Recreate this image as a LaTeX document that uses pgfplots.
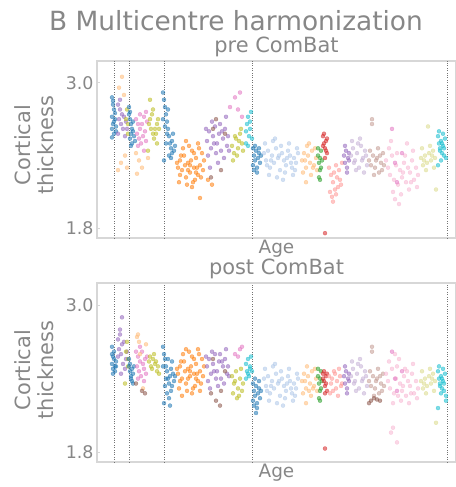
\documentclass[border=0pt]{standalone}
\usepackage{fontspec}
\setmainfont{DejaVu Sans}
\usepackage{pgfplots}
\pgfplotsset{compat=1.18}
\definecolor{txt}{RGB}{135,135,135}
\definecolor{frame}{RGB}{215,215,215}
\definecolor{tb}{HTML}{1F77B4}
\definecolor{tbl}{HTML}{AEC7E8}
\definecolor{to}{HTML}{FF7F0E}
\definecolor{tol}{HTML}{FFBB78}
\definecolor{tg}{HTML}{2CA02C}
\definecolor{tr}{HTML}{D62728}
\definecolor{trl}{HTML}{FF9896}
\definecolor{tp}{HTML}{9467BD}
\definecolor{tpl}{HTML}{C5B0D5}
\definecolor{tbr}{HTML}{8C564B}
\definecolor{tbrl}{HTML}{C49C94}
\definecolor{tpk}{HTML}{E377C2}
\definecolor{tpkl}{HTML}{F7B6D2}
\definecolor{tol2}{HTML}{BCBD22}
\definecolor{toll}{HTML}{DBDB8D}
\definecolor{tc}{HTML}{17BECF}
\definecolor{tcl}{HTML}{9EDAE5}
\pgfplotsset{
  sc/.style={only marks, mark=*, mark size=2pt, color=#1, fill=#1, opacity=0.55},
  panel/.style={
    scale only axis, width=359bp, anchor=south west,
    xmin=97, xmax=456, ymin=1.72, ymax=3.18,
    axis line style={frame, line width=1.2pt},
    xtick=\empty,
    extra x ticks={114,129,164,252,447}, extra x tick labels={},
    extra x tick style={grid=major, major tick length=0pt,
      major grid style={dotted, black!55, line width=0.9pt}},
    ytick={1.8,3.0},
    yticklabel style={text=txt, font=\fontsize{17.5}{20}\selectfont,
      /pgf/number format/.cd, fixed, fixed zerofill, precision=1, assume math mode=true},
    major tick style={frame, line width=1pt}, major tick length=3pt,
    ytick pos=left,
    title style={text=txt, font=\fontsize{21}{24}\selectfont, yshift=-5pt},
    xlabel style={text=txt, font=\fontsize{18.5}{22}\selectfont, at={(axis description cs:0.5,0)}, anchor=north, yshift=1pt},
    xlabel=Age,
  }
}
\begin{document}
\begin{tikzpicture}
\path[use as bounding box] (0,0) rectangle (456bp,487bp);
\node[text=txt, font=\fontsize{26.5}{30}\selectfont] at (236bp,466bp) {B Multicentre harmonization};
\node[text=txt, rotate=90, align=center, font=\fontsize{21}{23}\selectfont] at (34bp,342bp) {Cortical\\thickness};
\node[text=txt, rotate=90, align=center, font=\fontsize{21}{23}\selectfont] at (34bp,117bp) {Cortical\\thickness};
% ---------------- pre ComBat ----------------
\begin{axis}[panel, at={(97bp,249bp)}, height=177bp, title={pre ComBat}]
\addplot[sc=tb] coordinates {(112,2.88)(113,2.82)(114,2.78)(112,2.72)(115,2.70)(113,2.66)(116,2.64)(112,2.62)(114,2.58)(115,2.75)(113,2.85)(116,2.60)(112,2.55)(114,2.68)};
\addplot[sc=tp] coordinates {(118,2.82)(120,2.78)(122,2.74)(119,2.70)(121,2.66)(124,2.72)(126,2.68)(123,2.62)(118,2.58)(125,2.56)(120,2.86)(127,2.62)};
\addplot[sc=tol] coordinates {(118,2.28)(121,2.34)(125,2.40)(119,2.96)(122,3.05)(127,2.30)(124,2.90)};
\addplot[sc=tol2] coordinates {(126,2.70)(127,2.78)(128,2.66)(128,2.58)};
\addplot[sc=tb] coordinates {(129,2.74)(130,2.70)(131,2.66)(132,2.62)(131,2.58)(130,2.54)(132,2.50)(133,2.60)(134,2.56)(129,2.80)(130,2.76)(133,2.68)(135,2.52)(131,2.48)};
\addplot[sc=tpk] coordinates {(136,2.70)(138,2.66)(140,2.62)(137,2.58)(139,2.54)(141,2.50)(143,2.56)(145,2.60)(142,2.66)(144,2.72)(146,2.52)(138,2.48)(140,2.74)(147,2.68)(144,2.44)(146,2.76)};
\addplot[sc=tol] coordinates {(136,2.42)(139,2.36)(142,2.30)(137,2.25)(148,2.38)};
\addplot[sc=tol2] coordinates {(149,2.66)(151,2.62)(153,2.58)(155,2.62)(157,2.66)(150,2.70)(152,2.74)(154,2.54)(156,2.58)(158,2.70)(159,2.62)(150,2.86)(153,2.78)(157,2.50)(148,2.44)};
\addplot[sc=tb] coordinates {(163,2.92)(164,2.86)(165,2.80)(166,2.74)(167,2.68)(168,2.62)(169,2.56)(170,2.50)(171,2.46)(172,2.52)(173,2.58)(174,2.44)(165,2.64)(167,2.58)(169,2.40)(171,2.38)(163,2.70)(166,2.50)(172,2.42)(175,2.48)(164,2.36)(168,2.78)};
\addplot[sc=to] coordinates {(178,2.30)(180,2.36)(182,2.28)(184,2.40)(186,2.22)(188,2.34)(190,2.26)(192,2.44)(194,2.30)(196,2.38)(198,2.24)(200,2.32)(202,2.42)(179,2.18)(183,2.46)(187,2.16)(191,2.36)(195,2.20)(199,2.46)(203,2.28)(181,2.40)(185,2.32)(189,2.48)(193,2.18)(197,2.30)(201,2.22)(204,2.36)(186,2.52)(192,2.14)(198,2.50)(180,2.24)(190,2.32)(196,2.26)(177,2.34)(194,2.42)(188,2.28)(208,2.20)(212,2.16)(200,2.05)};
\addplot[sc=tp] coordinates {(207,2.52)(209,2.60)(211,2.46)(213,2.56)(215,2.64)(217,2.50)(219,2.58)(221,2.44)(223,2.54)(225,2.62)(227,2.48)(208,2.40)(212,2.68)(216,2.42)(220,2.66)(224,2.38)(228,2.56)(210,2.30)(218,2.34)(226,2.72)(214,2.50)(222,2.60)(206,2.62)(229,2.44)};
\addplot[sc=tbr] coordinates {(211,2.22)(216,2.70)(221,2.28)(225,2.58)(213,2.62)};
\addplot[sc=tol2] coordinates {(232,2.48)(234,2.42)(236,2.54)(238,2.46)(240,2.58)(242,2.50)(233,2.36)(237,2.40)(241,2.62)(235,2.56)(239,2.52)(243,2.44)};
\addplot[sc=tpk] coordinates {(235,2.88)(240,2.92)(238,2.78)(242,2.72)(230,2.80)};
\addplot[sc=tc] coordinates {(246,2.60)(247,2.66)(248,2.72)(249,2.56)(250,2.68)(251,2.76)(246,2.50)(248,2.48)(250,2.62)(252,2.54)};
\addplot[sc=tb] coordinates {(253,2.46)(254,2.40)(255,2.36)(256,2.44)(257,2.30)(258,2.38)(259,2.42)(260,2.34)(253,2.32)(255,2.48)(257,2.26)(261,2.40)(254,2.28)(259,2.46)};
\addplot[sc=tbl] coordinates {(264,2.42)(266,2.36)(268,2.44)(270,2.30)(272,2.40)(274,2.34)(276,2.46)(278,2.38)(280,2.28)(282,2.42)(284,2.36)(286,2.32)(288,2.44)(290,2.40)(292,2.30)(294,2.38)(296,2.34)(298,2.42)(265,2.50)(269,2.24)(273,2.52)(277,2.22)(281,2.48)(285,2.26)(289,2.50)(293,2.24)(297,2.46)(271,2.36)(279,2.40)(287,2.38)(295,2.28)(283,2.20)(275,2.54)(291,2.34)(267,2.32)};
\addplot[sc=tol] coordinates {(302,2.36)(304,2.42)(306,2.30)(308,2.40)(310,2.34)(312,2.44)(314,2.32)(316,2.38)(303,2.26)(307,2.48)(311,2.24)(315,2.46)(305,2.36)(313,2.30)(309,2.50)(317,2.28)(306,2.18)};
\addplot[sc=tg] coordinates {(318,2.40)(319,2.34)(320,2.28)(321,2.44)(319,2.22)(320,2.38)(321,2.30)(318,2.46)(322,2.36)(320,2.20)};
\addplot[sc=tr] coordinates {(323,2.56)(324,2.50)(325,2.46)(326,2.52)(327,2.42)(324,2.58)(325,2.38)(326,2.44)(323,2.48)(327,2.54)(325,1.76)};
\addplot[sc=trl] coordinates {(329,2.30)(331,2.24)(333,2.18)(335,2.12)(337,2.22)(339,2.28)(341,2.16)(330,2.10)(332,2.06)(334,2.26)(336,2.32)(338,2.14)(340,2.20)(342,2.34)(333,2.02)(336,2.08)};
\addplot[sc=tp] coordinates {(344,2.40)(345,2.34)(346,2.44)(347,2.30)(348,2.38)(349,2.42)(345,2.48)(347,2.26)(349,2.36)};
\addplot[sc=tpl] coordinates {(351,2.40)(353,2.46)(355,2.36)(357,2.42)(359,2.30)(361,2.48)(363,2.38)(365,2.44)(367,2.32)(352,2.52)(356,2.28)(360,2.54)(364,2.26)(354,2.34)(358,2.50)(362,2.36)(366,2.40)};
\addplot[sc=tbrl] coordinates {(369,2.36)(371,2.32)(373,2.40)(375,2.30)(377,2.38)(379,2.26)(381,2.34)(383,2.42)(370,2.44)(374,2.24)(378,2.46)(382,2.28)(372,2.70)(372,2.66)(376,2.36)(380,2.40)(384,2.32)};
\addplot[sc=tpkl] coordinates {(386,2.36)(388,2.30)(390,2.24)(392,2.40)(394,2.20)(396,2.32)(398,2.16)(400,2.28)(402,2.22)(404,2.34)(406,2.18)(408,2.30)(410,2.26)(412,2.36)(414,2.20)(416,2.30)(418,2.24)(389,2.46)(393,2.10)(397,2.42)(401,2.08)(405,2.40)(409,2.12)(413,2.44)(417,2.14)(395,2.04)(399,2.00)(391,2.52)(403,2.26)(411,2.18)(407,2.50)};
\addplot[sc=tpk] coordinates {(395,2.34)(402,2.42)(392,2.62)(397,2.18)};
\addplot[sc=toll] coordinates {(421,2.38)(423,2.32)(425,2.40)(427,2.34)(429,2.42)(431,2.36)(433,2.44)(435,2.38)(422,2.46)(426,2.28)(430,2.48)(434,2.30)(424,2.36)(432,2.40)(428,2.64)(436,2.12)};
\addplot[sc=tc] coordinates {(438,2.56)(439,2.50)(440,2.46)(441,2.52)(442,2.42)(443,2.48)(444,2.40)(445,2.54)(439,2.60)(441,2.36)(443,2.58)(440,2.44)(442,2.50)(444,2.46)(446,2.38)(438,2.32)};
\end{axis}
% ---------------- post ComBat ----------------
\begin{axis}[panel, at={(97bp,25bp)}, height=179bp, title={post ComBat}]
\addplot[sc=tb] coordinates {(112,2.52)(113,2.48)(114,2.56)(112,2.60)(115,2.50)(113,2.44)(116,2.54)(112,2.66)(114,2.62)(115,2.46)(113,2.58)(116,2.50)};
\addplot[sc=tp] coordinates {(118,2.72)(120,2.76)(122,2.68)(119,2.64)(121,2.60)(124,2.70)(126,2.56)(123,2.52)(118,2.58)(125,2.48)(120,2.80)(127,2.62)(122,2.90)(121,2.44)};
\addplot[sc=tol2] coordinates {(126,2.62)(127,2.70)(128,2.56)(128,2.50)(125,2.36)};
\addplot[sc=tb] coordinates {(129,2.50)(130,2.46)(131,2.42)(132,2.48)(131,2.40)(130,2.52)(132,2.38)(133,2.44)(134,2.50)(129,2.56)(133,2.36)};
\addplot[sc=tpk] coordinates {(136,2.62)(138,2.58)(140,2.54)(137,2.50)(139,2.46)(141,2.42)(143,2.52)(145,2.56)(142,2.62)(144,2.48)(146,2.44)(138,2.40)(140,2.66)(147,2.58)(144,2.38)};
\addplot[sc=tol] coordinates {(137,2.74)(139,2.70)(138,2.76)(140,2.60)(143,2.32)(146,2.68)};
\addplot[sc=tbr] coordinates {(142,2.30)(145,2.28)(136,2.36)};
\addplot[sc=tol2] coordinates {(149,2.54)(151,2.50)(153,2.56)(155,2.52)(157,2.46)(150,2.58)(152,2.48)(154,2.60)(156,2.54)(158,2.50)(159,2.44)};
\addplot[sc=tb] coordinates {(163,2.66)(164,2.60)(165,2.56)(166,2.50)(167,2.46)(168,2.40)(169,2.36)(170,2.42)(171,2.48)(172,2.54)(173,2.44)(174,2.38)(165,2.34)(167,2.28)(169,2.24)(171,2.30)(163,2.50)(166,2.40)(172,2.34)(175,2.42)(164,2.20)(168,2.56)(170,2.18)};
\addplot[sc=to] coordinates {(178,2.44)(180,2.50)(182,2.40)(184,2.54)(186,2.36)(188,2.48)(190,2.42)(192,2.58)(194,2.44)(196,2.52)(198,2.38)(200,2.46)(202,2.56)(179,2.32)(183,2.60)(187,2.30)(191,2.50)(195,2.34)(199,2.60)(203,2.42)(181,2.54)(185,2.46)(189,2.62)(193,2.32)(197,2.44)(201,2.36)(204,2.50)(186,2.64)(192,2.28)(198,2.64)(180,2.38)(190,2.46)(196,2.40)(177,2.48)(194,2.56)(188,2.40)(182,2.26)(200,2.30)};
\addplot[sc=tp] coordinates {(207,2.50)(209,2.56)(211,2.44)(213,2.52)(215,2.60)(217,2.46)(219,2.54)(221,2.40)(223,2.50)(225,2.56)(227,2.44)(208,2.38)(212,2.62)(216,2.40)(220,2.60)(224,2.36)(228,2.50)(210,2.32)(218,2.34)(226,2.64)(214,2.46)(222,2.54)(206,2.58)(229,2.42)};
\addplot[sc=tbr] coordinates {(211,2.28)(216,2.22)(221,2.30)(225,2.46)(213,2.56)(220,2.18)};
\addplot[sc=tol2] coordinates {(232,2.42)(234,2.36)(236,2.46)(238,2.32)(240,2.40)(242,2.30)(233,2.28)(237,2.24)(241,2.48)(235,2.38)(239,2.26)(243,2.36)};
\addplot[sc=tpk] coordinates {(235,2.60)(240,2.64)(238,2.58)(242,2.66)};
\addplot[sc=tc] coordinates {(246,2.52)(247,2.46)(248,2.56)(249,2.42)(250,2.50)(251,2.58)(246,2.40)(248,2.44)(250,2.48)(252,2.46)};
\addplot[sc=tb] coordinates {(253,2.36)(254,2.30)(255,2.26)(256,2.34)(257,2.20)(258,2.28)(259,2.32)(260,2.24)(253,2.22)(255,2.40)(257,2.16)(261,2.30)(254,2.18)(259,2.38)(256,2.12)};
\addplot[sc=tbl] coordinates {(264,2.40)(266,2.34)(268,2.42)(270,2.28)(272,2.38)(274,2.32)(276,2.44)(278,2.36)(280,2.26)(282,2.40)(284,2.34)(286,2.30)(288,2.42)(290,2.38)(292,2.28)(294,2.36)(296,2.32)(298,2.40)(265,2.48)(269,2.22)(273,2.50)(277,2.20)(281,2.46)(285,2.24)(289,2.48)(293,2.22)(297,2.44)(271,2.34)(279,2.38)(287,2.36)(295,2.26)(283,2.18)(275,2.52)(291,2.32)(267,2.30)};
\addplot[sc=tol] coordinates {(302,2.38)(304,2.44)(306,2.32)(308,2.42)(310,2.36)(312,2.46)(314,2.34)(316,2.40)(303,2.28)(307,2.50)(311,2.26)(315,2.48)(305,2.38)(313,2.32)(309,2.30)(317,2.30)(306,2.20)};
\addplot[sc=tg] coordinates {(318,2.42)(319,2.36)(320,2.30)(321,2.46)(319,2.24)(320,2.40)(321,2.32)(318,2.48)(322,2.38)(320,2.22)};
\addplot[sc=tr] coordinates {(323,2.44)(324,2.38)(325,2.34)(326,2.42)(327,2.30)(324,2.46)(325,2.28)(326,2.36)(323,2.40)(327,2.44)(325,1.83)};
\addplot[sc=trl] coordinates {(329,2.42)(331,2.36)(333,2.30)(335,2.44)(337,2.38)(339,2.48)(341,2.34)(330,2.28)(332,2.40)(334,2.46)(336,2.32)(338,2.26)(340,2.42)(342,2.36)};
\addplot[sc=tp] coordinates {(344,2.42)(345,2.36)(346,2.46)(347,2.32)(348,2.40)(349,2.44)(345,2.50)(347,2.28)(349,2.38)};
\addplot[sc=tpl] coordinates {(351,2.42)(353,2.48)(355,2.38)(357,2.44)(359,2.32)(361,2.50)(363,2.40)(365,2.46)(367,2.34)(352,2.54)(356,2.30)(360,2.56)(364,2.28)(354,2.36)(358,2.52)(362,2.38)(366,2.42)};
\addplot[sc=tbrl] coordinates {(369,2.38)(371,2.34)(373,2.42)(375,2.32)(377,2.40)(379,2.28)(381,2.36)(383,2.44)(370,2.46)(374,2.26)(378,2.48)(382,2.30)(372,2.66)(372,2.62)(376,2.38)(380,2.42)(384,2.34)};
\addplot[sc=tbr] coordinates {(369,2.20)(371,2.22)(374,2.24)(377,2.23)(380,2.22)};
\addplot[sc=tpkl] coordinates {(386,2.44)(388,2.38)(390,2.32)(392,2.48)(394,2.28)(396,2.40)(398,2.26)(400,2.36)(402,2.30)(404,2.42)(406,2.26)(408,2.38)(410,2.34)(412,2.44)(414,2.28)(416,2.38)(418,2.32)(389,2.54)(393,2.20)(397,2.50)(401,2.22)(405,2.48)(409,2.20)(413,2.52)(417,2.24)(395,2.60)(399,2.56)(391,1.96)(403,2.34)(411,2.28)(407,2.46)(397,1.88)(393,2.00)};
\addplot[sc=tpk] coordinates {(395,2.40)(402,2.46)(392,2.62)(397,2.30)};
\addplot[sc=toll] coordinates {(421,2.38)(423,2.32)(425,2.40)(427,2.34)(429,2.42)(431,2.36)(433,2.44)(435,2.38)(422,2.46)(426,2.28)(430,2.48)(434,2.30)(424,2.36)(432,2.40)(436,2.04)};
\addplot[sc=tc] coordinates {(438,2.46)(439,2.40)(440,2.36)(441,2.42)(442,2.32)(443,2.38)(444,2.30)(445,2.44)(439,2.50)(441,2.28)(443,2.48)(440,2.34)(442,2.40)(444,2.36)(446,2.26)(438,2.16)(446,2.22)};
\end{axis}
\end{tikzpicture}
\end{document}
